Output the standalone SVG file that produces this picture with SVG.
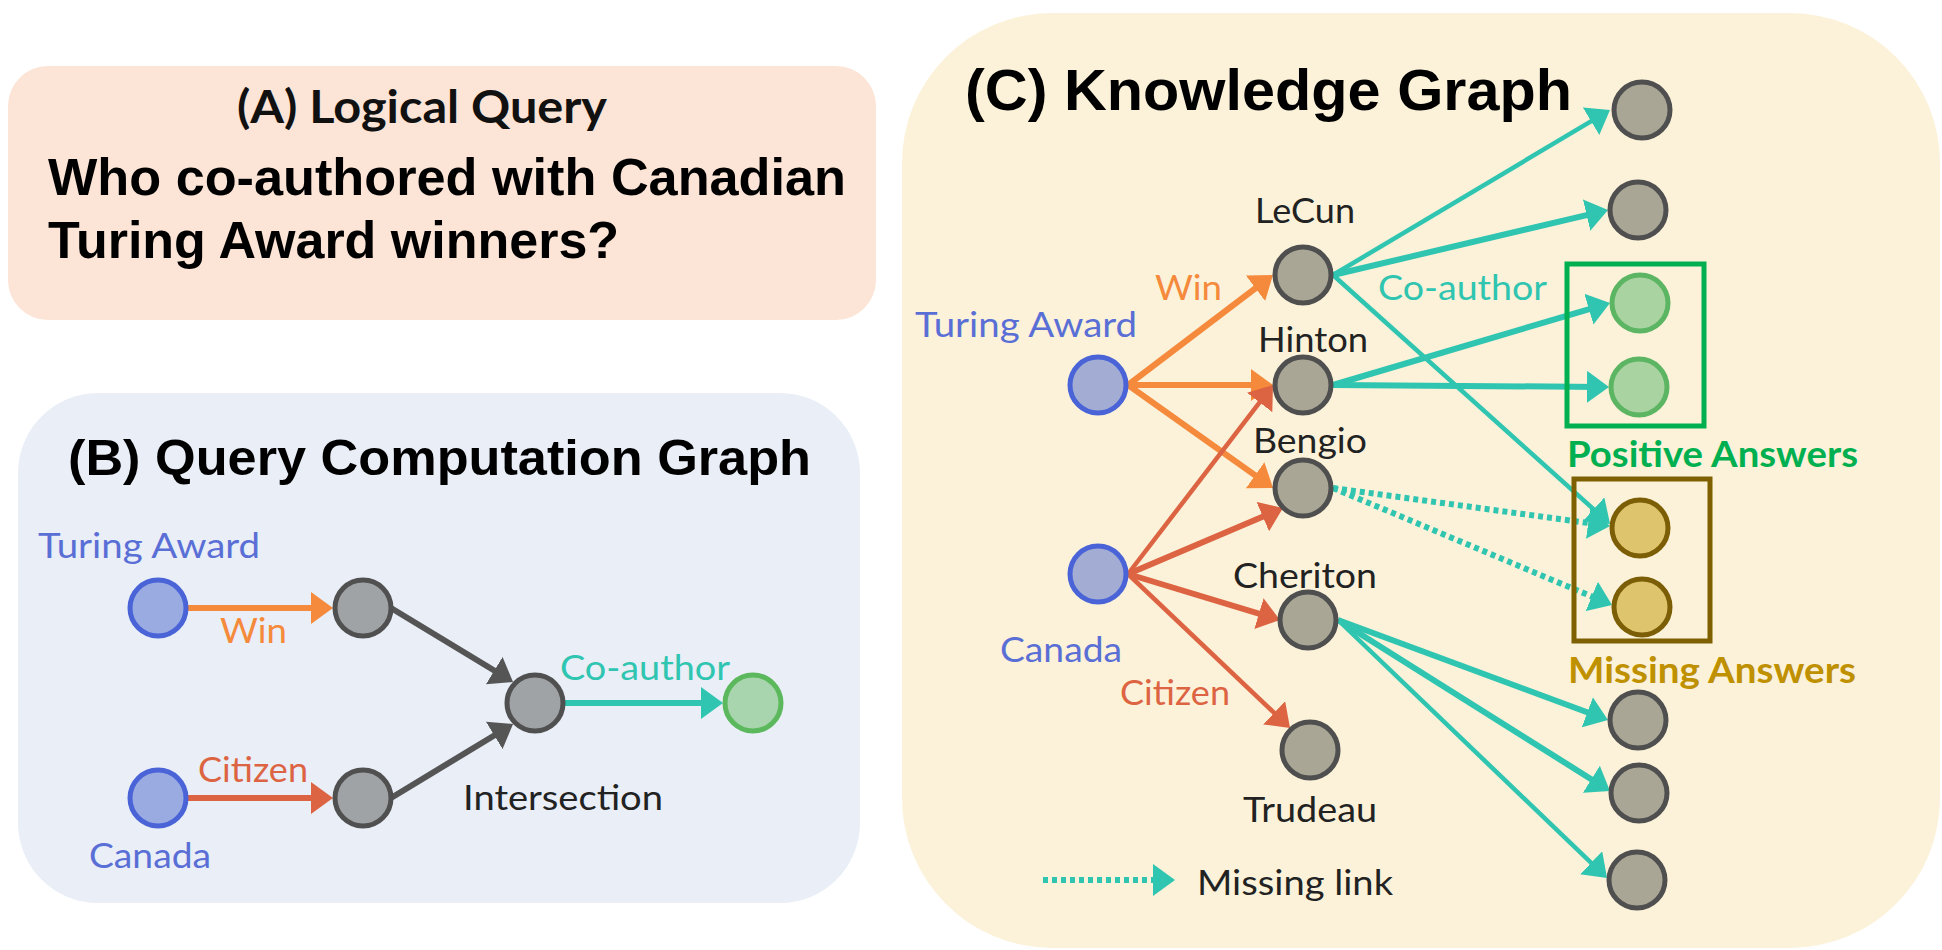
<svg xmlns="http://www.w3.org/2000/svg" width="1942" height="950" viewBox="0 0 1942 950">
<style>
.lbl{font-family:Lato,"Open Sans","Liberation Sans",sans-serif;font-size:35px}
.lblb{font-family:Lato,"Open Sans","Liberation Sans",sans-serif;font-size:37px;font-weight:bold}
.ttl{font-family:"Liberation Sans",Arial,sans-serif;font-weight:bold;fill:#000}
.blue{fill:#5a6fd6}.org{fill:#f58a3c}.red{fill:#dd6442}.teal{fill:#2fc5b0}.blk{fill:#222}
.e{fill:none;stroke-width:6;stroke-linecap:butt}
.thin{stroke-width:4.5}
.eo{stroke:#f58a3c}.er{stroke:#dd6442}.et{stroke:#2fc5b0}.eg{stroke:#555}
.dot{stroke-dasharray:5 4}
.nb{fill:#9aabe2;stroke:#4a64d8;stroke-width:5}
.ng{fill:#a0a3a6;stroke:#505050;stroke-width:5}
.ngr{fill:#a8d5ae;stroke:#5cb85c;stroke-width:5}
.nbc{fill:#a3add4;stroke:#4a64d8;stroke-width:5}
.ngc{fill:#a9a695;stroke:#4f4f4f;stroke-width:5}
.ngrc{fill:#a9d3a0;stroke:#5cb562;stroke-width:5}
.nyc{fill:#dfc46e;stroke:#7b5e05;stroke-width:5}
</style>
<defs>
<marker id="mo" viewBox="0 0 22 32" refX="12" refY="16" markerWidth="22" markerHeight="32" markerUnits="userSpaceOnUse" orient="auto"><path d="M0,0 L22,16 L0,32 z" fill="#f58a3c"/></marker>
<marker id="mr" viewBox="0 0 22 32" refX="12" refY="16" markerWidth="22" markerHeight="32" markerUnits="userSpaceOnUse" orient="auto"><path d="M0,0 L22,16 L0,32 z" fill="#dd6442"/></marker>
<marker id="mt" viewBox="0 0 22 32" refX="12" refY="16" markerWidth="22" markerHeight="32" markerUnits="userSpaceOnUse" orient="auto"><path d="M0,0 L22,16 L0,32 z" fill="#2fc5b0"/></marker>
<marker id="mg" viewBox="0 0 22 32" refX="12" refY="16" markerWidth="22" markerHeight="32" markerUnits="userSpaceOnUse" orient="auto"><path d="M0,0 L22,16 L0,32 z" fill="#555"/></marker>
</defs>
<rect width="1942" height="950" fill="#fff"/>

<!-- Panels -->
<g id="panelA">
<rect x="8" y="66" width="868" height="254" rx="40" fill="#fce4d6"/>
<text class="lblb" x="237" y="123" style="font-size:45px;fill:#111" textLength="370" lengthAdjust="spacingAndGlyphs">(A) Logical Query</text>
<text class="ttl" x="48" y="195" font-size="52" textLength="798" lengthAdjust="spacingAndGlyphs">Who co-authored with Canadian</text>
<text class="ttl" x="48" y="258" font-size="52">Turing Award winners?</text>
</g>
<g id="panelB">
<rect x="18" y="393" width="842" height="510" rx="80" fill="#e9eef7"/>
<text class="ttl" x="68" y="475" font-size="50" textLength="743" lengthAdjust="spacingAndGlyphs">(B) Query Computation Graph</text>
</g>
<g id="panelC">
<rect x="902" y="13" width="1038" height="935" rx="150" fill="#fbf2d9"/>
<text class="ttl" x="965" y="110" font-size="58" textLength="607" lengthAdjust="spacingAndGlyphs">(C) Knowledge Graph</text>
</g>

<!-- Connectors -->
<g id="connectors">
<!-- panel B -->
<line class="e eo" x1="188" y1="608" x2="323" y2="608" marker-end="url(#mo)"/>
<line class="e er" x1="188" y1="798" x2="323" y2="798" marker-end="url(#mr)"/>
<line class="e eg" x1="391" y1="608" x2="504.5" y2="676.8" marker-end="url(#mg)"/>
<line class="e eg" x1="391" y1="798" x2="504.5" y2="729.2" marker-end="url(#mg)"/>
<line class="e et" x1="565" y1="703" x2="713" y2="703" marker-end="url(#mt)"/>
<!-- panel C: Win -->
<line class="e eo" x1="1128" y1="385" x2="1265" y2="281" marker-end="url(#mo)"/>
<line class="e eo" x1="1128" y1="385" x2="1263" y2="385" marker-end="url(#mo)"/>
<line class="e eo" x1="1128" y1="385" x2="1264.9" y2="482.2" marker-end="url(#mo)"/>
<!-- Citizen -->
<line class="e er thin" x1="1128" y1="574" x2="1266.9" y2="392.9" marker-end="url(#mr)"/>
<line class="e er" x1="1128" y1="574" x2="1273.8" y2="511.9" marker-end="url(#mr)"/>
<line class="e er" x1="1128" y1="574" x2="1270.4" y2="617.1" marker-end="url(#mr)"/>
<line class="e er thin" x1="1128" y1="574" x2="1282.8" y2="721.1" marker-end="url(#mr)"/>
<!-- Co-author -->
<line class="e et thin" x1="1333" y1="275" x2="1601.4" y2="115.1" marker-end="url(#mt)"/>
<line class="e et" x1="1333" y1="275" x2="1598.3" y2="212.3" marker-end="url(#mt)"/>
<line class="e et thin" x1="1333" y1="275" x2="1602.6" y2="517.3" marker-end="url(#mt)"/>
<line class="e et" x1="1333" y1="385" x2="1600.4" y2="305.8" marker-end="url(#mt)"/>
<line class="e et" x1="1333" y1="385" x2="1599" y2="386.9" marker-end="url(#mt)"/>
<line class="e et dot" x1="1333" y1="488" x2="1600.1" y2="524.6" marker-end="url(#mt)"/>
<line class="e et dot" x1="1333" y1="488" x2="1602.8" y2="601.1" marker-end="url(#mt)"/>
<line class="e et" x1="1338" y1="620" x2="1598.6" y2="716.5" marker-end="url(#mt)"/>
<line class="e et" x1="1338" y1="620" x2="1601.5" y2="785.7" marker-end="url(#mt)"/>
<line class="e et thin" x1="1338" y1="620" x2="1599.8" y2="871.1" marker-end="url(#mt)"/>
<!-- legend -->
<line class="e et dot" x1="1043" y1="880" x2="1165" y2="880" marker-end="url(#mt)"/>
</g>

<!-- Edge labels -->
<g id="edge-labels">
<text class="lbl org" x="220" y="643" textLength="67" lengthAdjust="spacingAndGlyphs">Win</text>
<text class="lbl red" x="198" y="782" textLength="110" lengthAdjust="spacingAndGlyphs">Citizen</text>
<text class="lbl teal" x="560" y="680" textLength="170" lengthAdjust="spacingAndGlyphs">Co-author</text>
<text class="lbl org" x="1155" y="300" textLength="67" lengthAdjust="spacingAndGlyphs">Win</text>
<text class="lbl teal" x="1378" y="300" textLength="169" lengthAdjust="spacingAndGlyphs">Co-author</text>
<text class="lbl red" x="1120" y="705" textLength="110" lengthAdjust="spacingAndGlyphs">Citizen</text>
</g>

<!-- Panel B nodes -->
<g id="b-turing"><circle class="nb" cx="158" cy="608" r="28"/><text class="lbl blue" x="38" y="558" textLength="222" lengthAdjust="spacingAndGlyphs">Turing Award</text></g>
<g id="b-canada"><circle class="nb" cx="158" cy="798" r="28"/><text class="lbl blue" x="89" y="868" textLength="122" lengthAdjust="spacingAndGlyphs">Canada</text></g>
<g id="b-win"><circle class="ng" cx="363" cy="608" r="28"/></g>
<g id="b-citizen"><circle class="ng" cx="363" cy="798" r="28"/></g>
<g id="b-intersection"><circle class="ng" cx="535" cy="703" r="28"/><text class="lbl blk" x="463" y="810" textLength="200" lengthAdjust="spacingAndGlyphs">Intersection</text></g>
<g id="b-answer"><circle class="ngr" cx="753" cy="703" r="28"/></g>

<!-- Panel C nodes -->
<g id="c-turing"><circle class="nbc" cx="1098" cy="385" r="28"/><text class="lbl blue" x="915" y="337" textLength="222" lengthAdjust="spacingAndGlyphs">Turing Award</text></g>
<g id="c-canada"><circle class="nbc" cx="1098" cy="574" r="28"/><text class="lbl blue" x="1000" y="662" textLength="122" lengthAdjust="spacingAndGlyphs">Canada</text></g>
<g id="c-lecun"><circle class="ngc" cx="1303" cy="275" r="28"/><text class="lbl blk" x="1255" y="223" textLength="100" lengthAdjust="spacingAndGlyphs">LeCun</text></g>
<g id="c-hinton"><circle class="ngc" cx="1303" cy="385" r="28"/><text class="lbl blk" x="1258" y="352" textLength="110" lengthAdjust="spacingAndGlyphs">Hinton</text></g>
<g id="c-bengio"><circle class="ngc" cx="1303" cy="488" r="28"/><text class="lbl blk" x="1253" y="453" textLength="114" lengthAdjust="spacingAndGlyphs">Bengio</text></g>
<g id="c-cheriton"><circle class="ngc" cx="1308" cy="620" r="28"/><text class="lbl blk" x="1233" y="588" textLength="144" lengthAdjust="spacingAndGlyphs">Cheriton</text></g>
<g id="c-trudeau"><circle class="ngc" cx="1310" cy="750" r="28"/><text class="lbl blk" x="1243" y="822" textLength="134" lengthAdjust="spacingAndGlyphs">Trudeau</text></g>
<g id="c-r1"><circle class="ngc" cx="1642" cy="110" r="28"/></g>
<g id="c-r2"><circle class="ngc" cx="1638" cy="210" r="28"/></g>
<g id="c-positive">
<rect x="1567" y="264" width="137" height="162" fill="none" stroke="#00b050" stroke-width="5"/>
<text class="lblb" x="1567" y="467" fill="#00b050" textLength="291" lengthAdjust="spacingAndGlyphs">Positive Answers</text>
</g>
<g id="c-g1"><circle class="ngrc" cx="1640" cy="303" r="28"/></g>
<g id="c-g2"><circle class="ngrc" cx="1639" cy="387" r="28"/></g>
<g id="c-missing">
<rect x="1574" y="479" width="136" height="162" fill="none" stroke="#7f6000" stroke-width="5"/>
<text class="lblb" x="1568" y="683" fill="#bf9000" textLength="288" lengthAdjust="spacingAndGlyphs">Missing Answers</text>
</g>
<g id="c-y1"><circle class="nyc" cx="1640" cy="528" r="28"/></g>
<g id="c-y2"><circle class="nyc" cx="1642" cy="607" r="28"/></g>
<g id="c-b1"><circle class="ngc" cx="1638" cy="720" r="28"/></g>
<g id="c-b2"><circle class="ngc" cx="1639" cy="793" r="28"/></g>
<g id="c-b3"><circle class="ngc" cx="1637" cy="880" r="28"/></g>
<g id="legend"><text class="lbl blk" x="1197" y="895" textLength="196" lengthAdjust="spacingAndGlyphs">Missing link</text></g>
</svg>
